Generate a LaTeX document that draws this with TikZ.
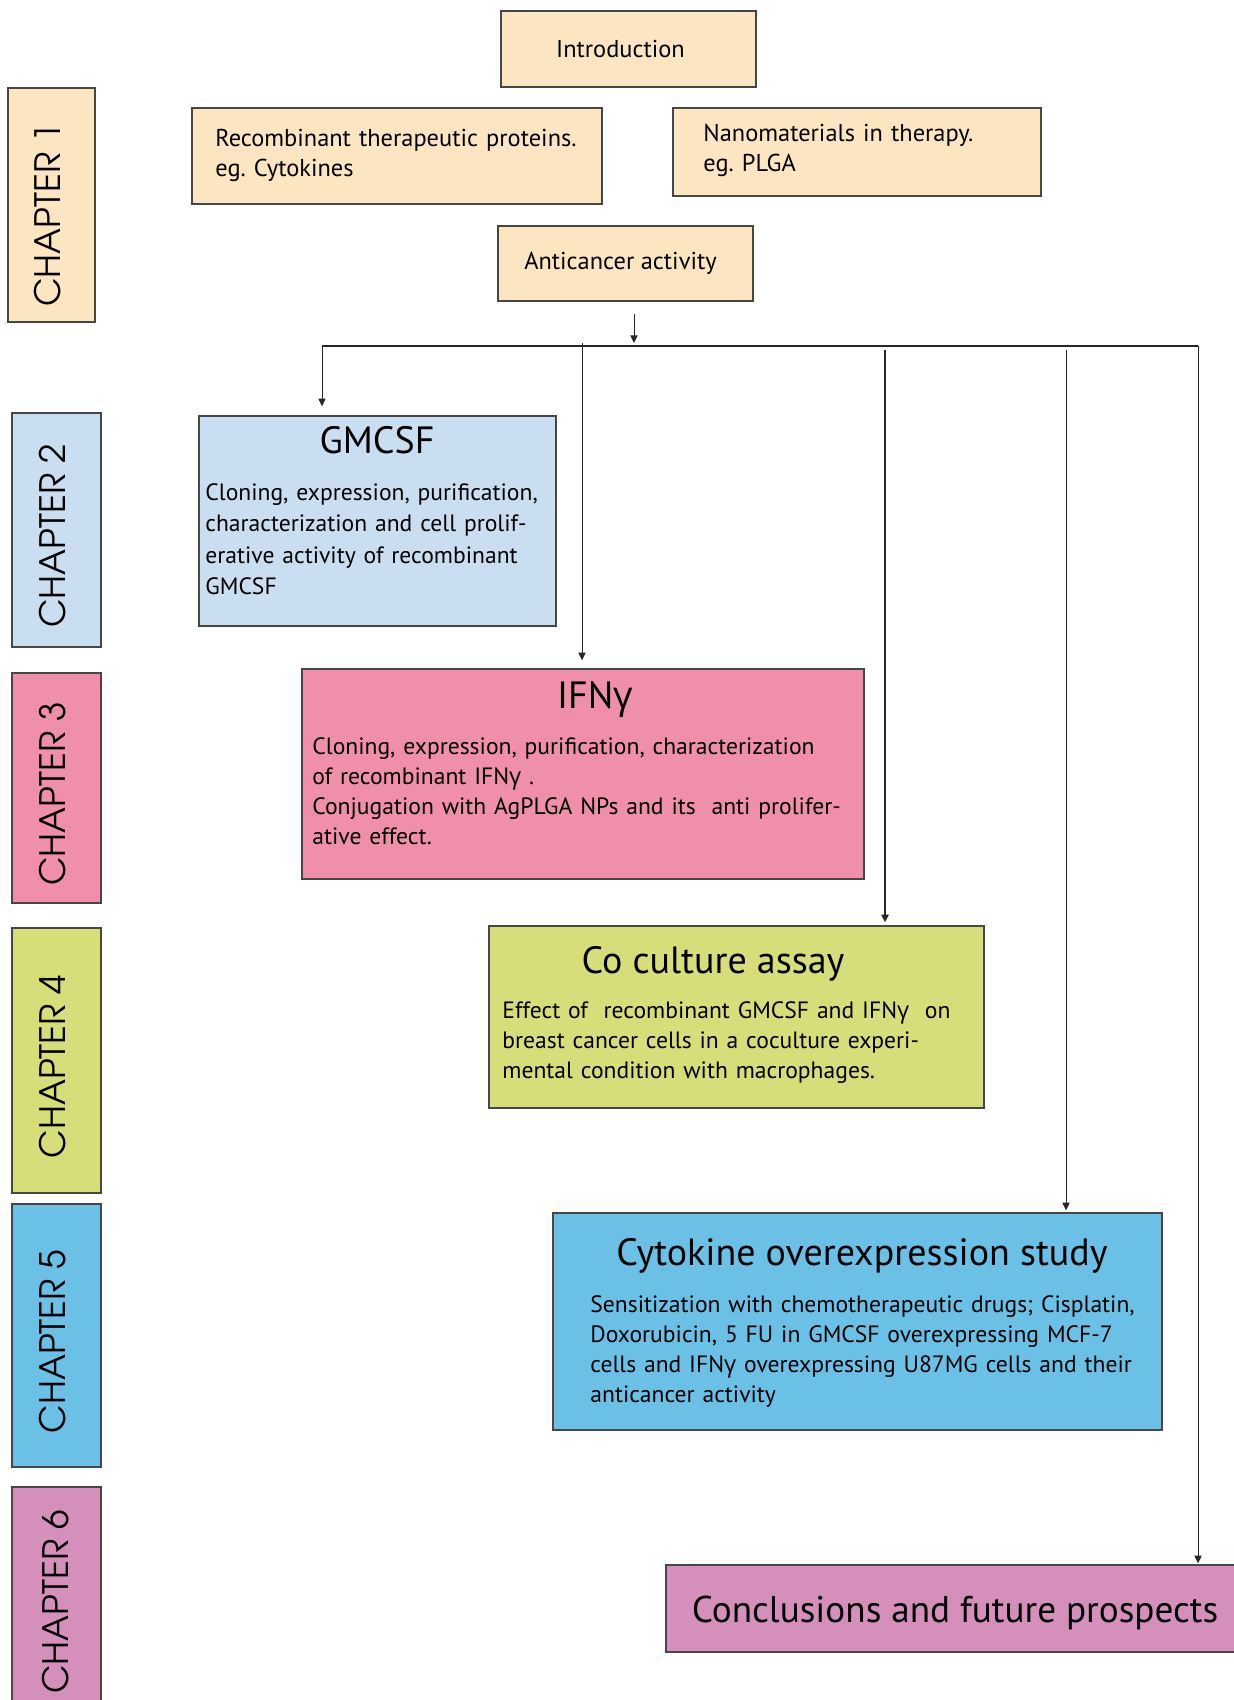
\documentclass[tikz,border=0pt]{standalone}
\usepackage{fontspec}
\setmainfont{PT Sans}
\newfontfamily\chapfont{TeX Gyre Adventor}
\newfontfamily\grfont{Open Sans}
\usepackage{tikz}
\usetikzlibrary{positioning,fit,arrows.meta}
\frenchspacing

\definecolor{chOne}{RGB}{252,229,193}
\definecolor{chTwo}{RGB}{201,222,240}
\definecolor{chThree}{RGB}{240,143,171}
\definecolor{chFour}{RGB}{213,222,120}
\definecolor{chFive}{RGB}{107,192,230}
\definecolor{chSix}{RGB}{212,143,186}

\newcommand{\ifng}{IFN{\grfont γ}}

\begin{document}
\begin{tikzpicture}[x=0.5pt,y=-0.5pt]
	\tikzset{box/.style={draw=black!72,line width=0.7pt,inner sep=0pt},
		chaplabel/.style={rotate=90,inner sep=0pt,font=\chapfont\fontsize{17.5}{20}\selectfont},
		plain/.style={inner sep=0pt,font=\fontsize{12.2}{15}\selectfont},
		head/.style={inner sep=0pt,anchor=base,font=\fontsize{19}{22}\selectfont},
		body/.style={inner sep=0pt,anchor=base west,align=left,text width=320pt,font=\fontsize{11.8}{15}\selectfont},
		link/.style={line width=0.5pt,black!85,-{Triangle[length=3.8pt,width=3.6pt]}}}

	\useasboundingbox (0,0) rectangle (1233,1700);
	\fill[white] (0,0) rectangle (1233,1700);

	%% chapter strips
	\node[box,fill=chOne,fit={(8,88) (95,322)}] (ch1) {};
	\node[chaplabel] (ch1t) at ([xshift=-2pt,yshift=-5pt]ch1.center) {CHAPTER 1};
	\node[box,fill=chTwo,fit={(12,413) (101,647)}] (ch2) {};
	\node[chaplabel] (ch2t) at ([xshift=-2pt,yshift=-3pt]ch2.center) {CHAPTER 2};
	\node[box,fill=chThree,fit={(12,673) (101,903)}] (ch3) {};
	\node[chaplabel] (ch3t) at ([xshift=-2pt,yshift=-3pt]ch3.center) {CHAPTER 3};
	\node[box,fill=chFour,fit={(12,928) (101,1193)}] (ch4) {};
	\node[chaplabel] (ch4t) at ([xshift=-2pt,yshift=-3pt]ch4.center) {CHAPTER 4};
	\node[box,fill=chFive,fit={(12,1204) (101,1467)}] (ch5) {};
	\node[chaplabel] (ch5t) at ([xshift=-2pt,yshift=-3pt]ch5.center) {CHAPTER 5};
	\node[box,fill=chSix,fit={(12,1487) (101,1710)}] (ch6) {};
	\node[chaplabel] (ch6t) at (56,1602) {CHAPTER 6};

	%% chapter 1 boxes
	\node[box,fill=chOne,fit={(501,11) (756,87)}] (intro) {};
	\node[plain] (introT) at ([xshift=-4pt]intro.center) {Introduction};
	\node[box,fill=chOne,fit={(192,108) (602,204)}] (recomb) {};
	\node[body,font=\fontsize{12.2}{15}\selectfont] (recombT) at (215,147)
		{Recombinant therapeutic proteins.\\eg. Cytokines};
	\node[box,fill=chOne,fit={(673,108) (1041,196)}] (nano) {};
	\node[body,font=\fontsize{12.2}{15}\selectfont] (nanoT) at (703,142)
		{Nanomaterials in therapy.\\eg. PLGA};
	\node[box,fill=chOne,fit={(498,226) (753,301)}] (anticancer) {};
	\node[plain] (anticancerT) at ([xshift=-2.5pt]anticancer.center) {Anticancer activity};

	%% chapter 2
	\node[box,fill=chTwo,fit={(199,416) (556,626)}] (gmcsf) {};
	\node[head] (gmcsfH) at (377,453) {GMCSF};
	\node[body,font=\fontsize{11.8}{15.8}\selectfont] (gmcsfB) at (205,500)
		{Cloning, expression, purification,\\characterization and cell prolif-\\erative activity of recombinant\\GMCSF};

	%% chapter 3
	\node[box,fill=chThree,fit={(302,669) (864,879)}] (ifn) {};
	\node[head] (ifnH) at (595,708) {\ifng};
	\node[body] (ifnB) at (312,754)
		{Cloning, expression, purification, characterization\\of recombinant \ifng\ .\\Conjugation with AgPLGA NPs and its~ anti prolifer-\\ative effect.};

	%% chapter 4
	\node[box,fill=chFour,fit={(489,926) (984,1108)}] (cocult) {};
	\node[head] (cocultH) at (713,973) {Co culture assay};
	\node[body] (cocultB) at (502,1018)
		{Effect of~ recombinant GMCSF and \ifng~ on\\breast cancer cells in a coculture experi-\\mental condition with macrophages.};

	%% chapter 5
	\node[box,fill=chFive,fit={(553,1213) (1162,1430)}] (cyto) {};
	\node[head] (cytoH) at (862,1265) {Cytokine overexpression study};
	\node[body] (cytoB) at (590,1312)
		{Sensitization with chemotherapeutic drugs; Cisplatin,\\Doxorubicin, 5 FU in GMCSF overexpressing MCF-7\\cells and \ifng\ overexpressing U87MG cells and their\\anticancer activity};

	%% chapter 6
	\node[box,fill=chSix,fit={(666,1565) (1240,1652)}] (concl) {};
	\node[head,font=\fontsize{18.6}{22}\selectfont] (conclT) at (955,1622) {Conclusions and future prospects};

	%% distribution bar and arrows
	\coordinate (barL) at (322,346);
	\coordinate (barR) at (1198,346);
	\coordinate (hub) at (634,346);
	\coordinate (tapIfn) at (582,343);
	\coordinate (tapCo) at (885,350);
	\coordinate (tapCyto) at (1066,350);
	\draw[line width=1.3pt,black!85] (barL) -- (barR);
	\draw[link,shorten <=6pt,shorten >=1.5pt] (anticancer.south -| hub) -- (hub);
	\draw[link,shorten >=4.5pt] (barL) -- (barL |- gmcsf.north);
	\draw[link,shorten >=4pt] (tapIfn) -- (tapIfn |- ifn.north);
	\draw[link,line width=1pt,shorten >=1.5pt] (tapCo) -- (tapCo |- cocult.north);
	\draw[link,shorten >=1pt] (tapCyto) -- (tapCyto |- cyto.north);
	\draw[link,shorten >=0.5pt] (barR) -- (barR |- concl.north);
\end{tikzpicture}
\end{document}
